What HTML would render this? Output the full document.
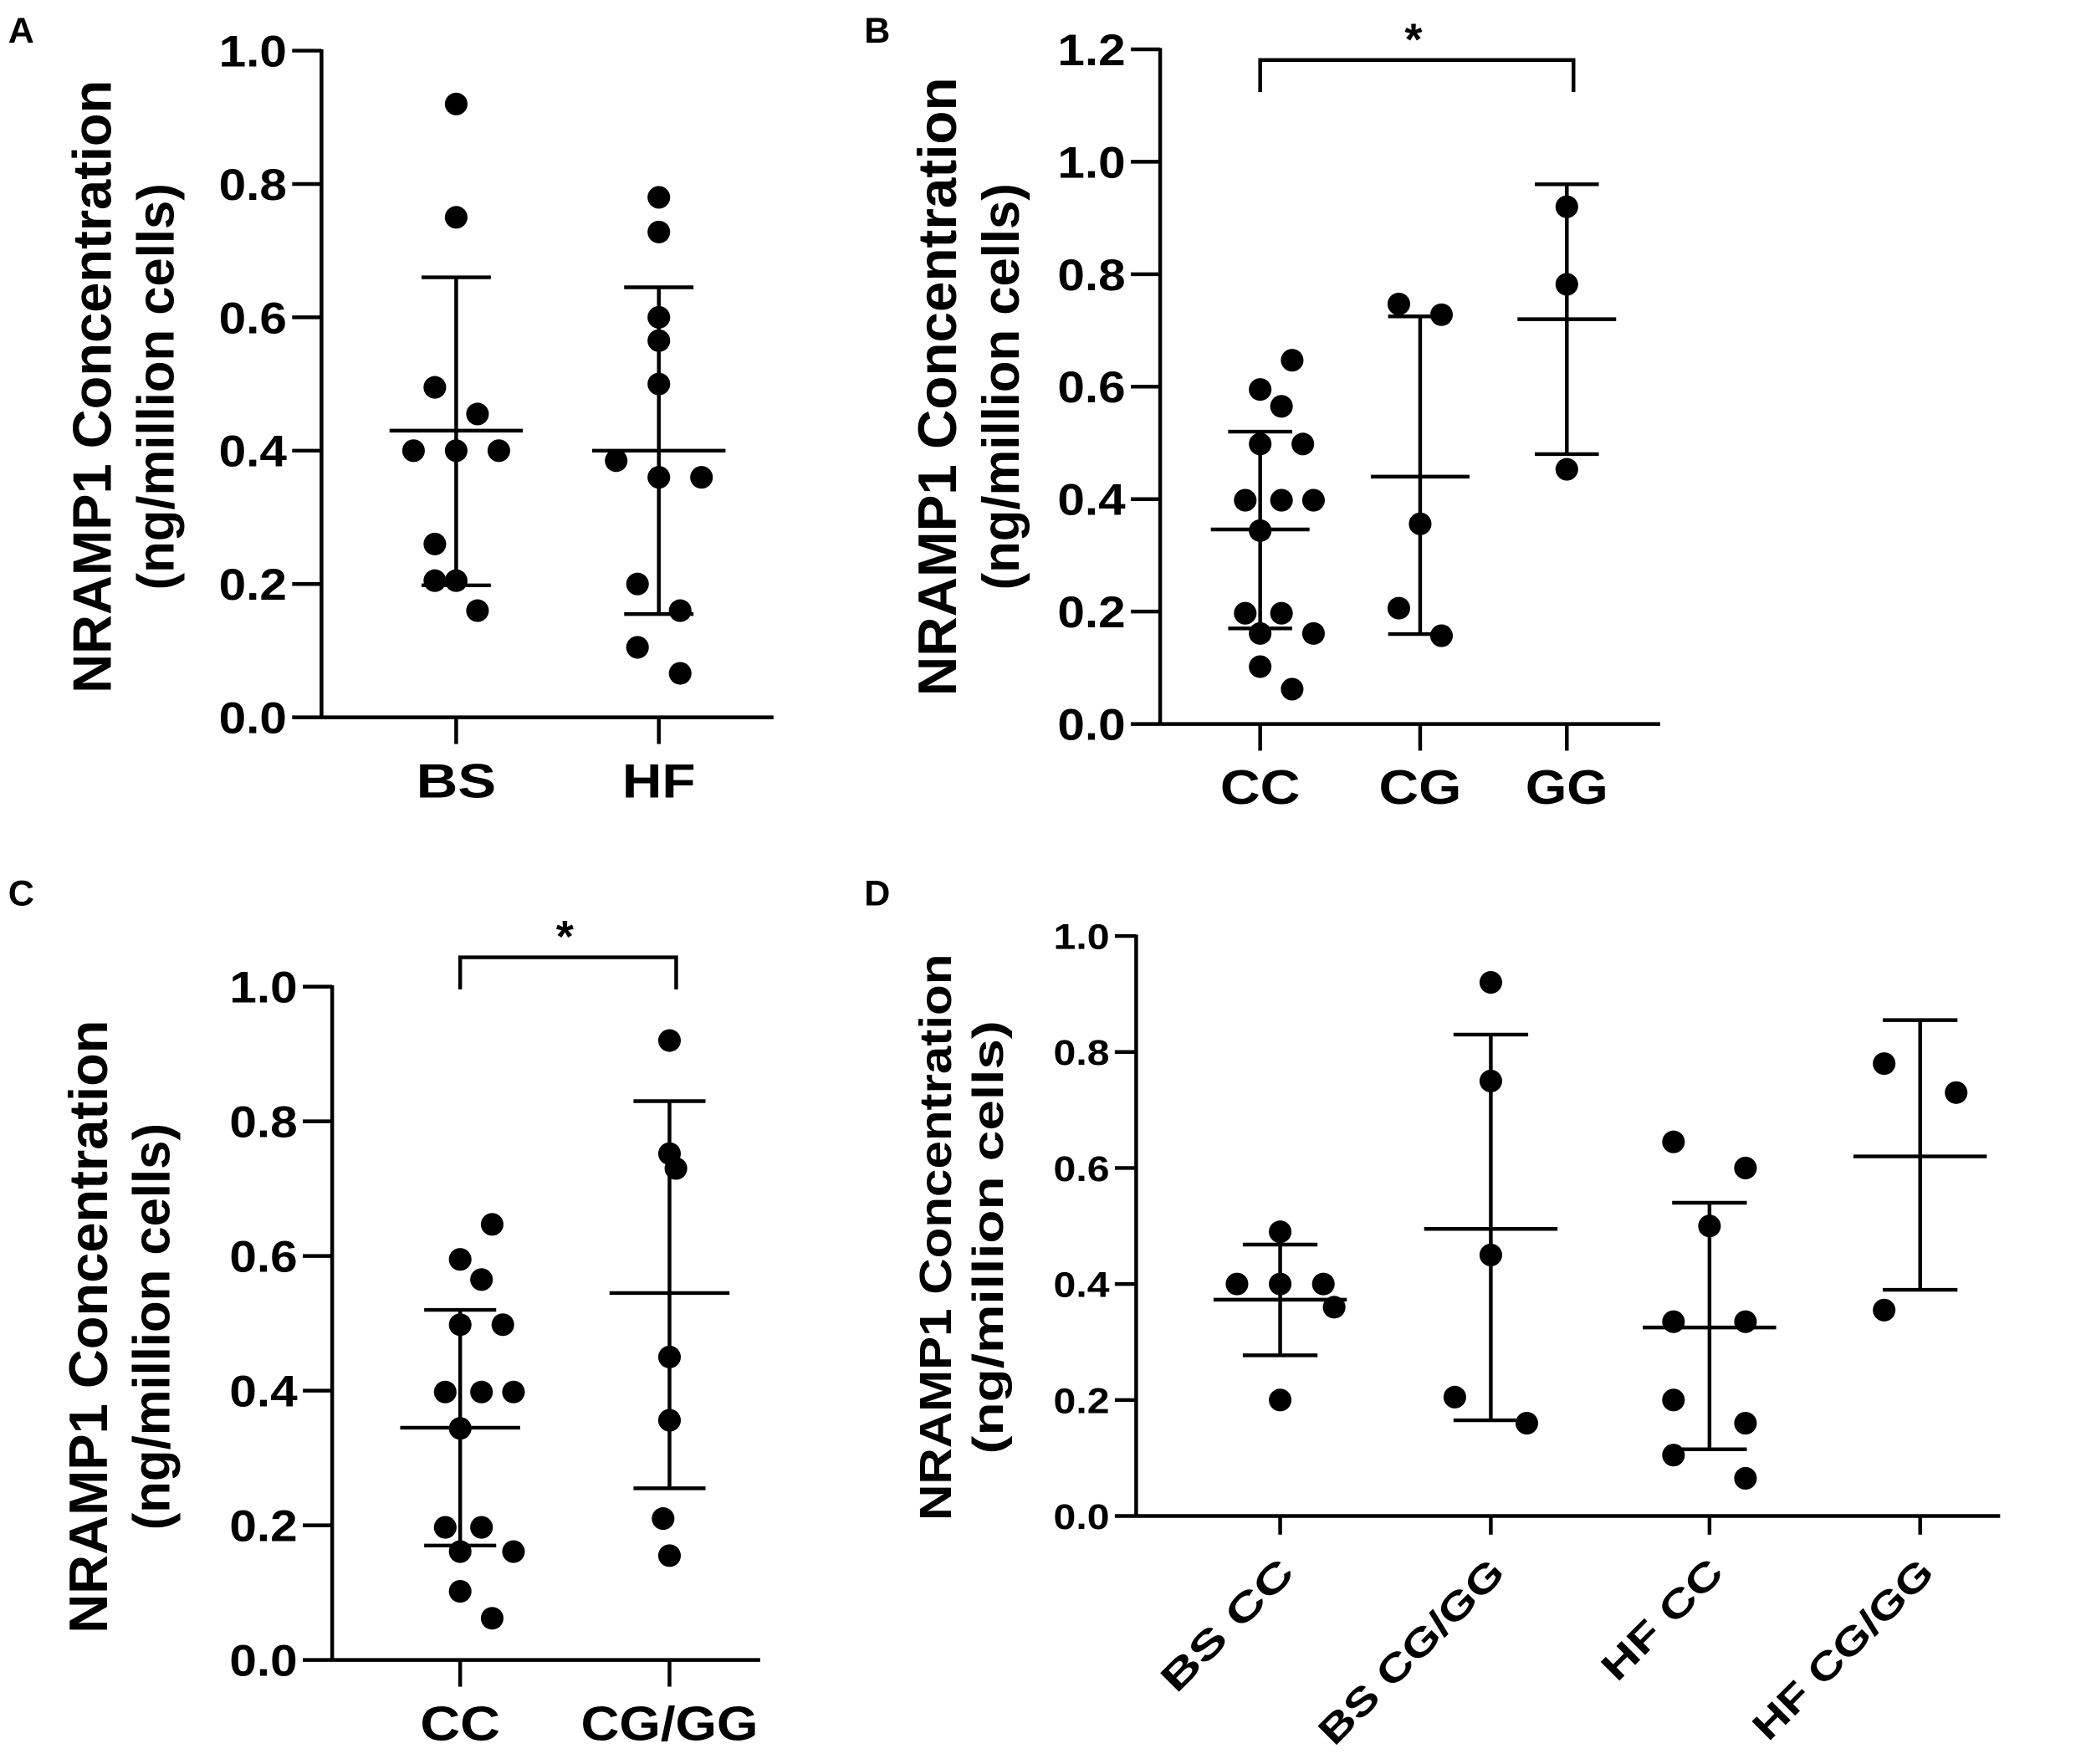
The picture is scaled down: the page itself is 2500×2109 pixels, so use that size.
<!DOCTYPE html>
<html><head><meta charset="utf-8"><style>
html,body{margin:0;padding:0;background:#fff;}
svg{display:block;font-family:"Liberation Sans",Arial,sans-serif;font-weight:bold;}
</style></head><body>
<svg id="fig" width="2500" height="2109" viewBox="0 0 1568 1323" xmlns="http://www.w3.org/2000/svg"></svg>
<script>
// ---- Data (values in ng/million cells) ----
const catsA = ["BS","HF"];
const valsA_BS = [0.92,0.75,0.495,0.455,0.40,0.40,0.40,0.26,0.205,0.205,0.16];
const valsA_HF = [0.78,0.728,0.60,0.565,0.50,0.385,0.36,0.36,0.20,0.16,0.105,0.066];
const meanA = [0.43,0.40];
const errHiA = [0.66,0.645];
const errLoA = [0.198,0.155];

const catsB = ["CC","CG","GG"];
const valsB_CC = [0.647,0.595,0.565,0.498,0.498,0.398,0.398,0.398,0.344,0.197,0.197,0.161,0.161,0.102,0.062];
const valsB_CG = [0.747,0.728,0.356,0.206,0.157];
const valsB_GG = [0.92,0.782,0.453];
const meanB = [0.346,0.44,0.72];
const errHiB = [0.52,0.725,0.96];
const errLoB = [0.17,0.16,0.48];

const catsC = ["CC","CG/GG"];
const valsC_CC = valsB_CC.slice();
const valsC_CGGG = [0.92,0.752,0.73,0.45,0.356,0.21,0.155];
const meanC = [0.345,0.545];
const errHiC = [0.52,0.83];
const errLoC = [0.17,0.255];

const catsD = ["BS  CC","BS CG/GG","HF CC","HF CG/GG"];
const valsD_BSCC = [0.49,0.40,0.40,0.40,0.36,0.20];
const valsD_BSCG = [0.92,0.75,0.45,0.205,0.16];
const valsD_HFCC = [0.645,0.60,0.50,0.335,0.335,0.20,0.16,0.105,0.065];
const valsD_HFCG = [0.78,0.73,0.355];
const meanD = [0.373,0.495,0.325,0.62];
const errHiD = [0.468,0.83,0.54,0.855];
const errLoD = [0.277,0.165,0.115,0.39];

const ticksA = ["0.0","0.2","0.4","0.6","0.8","1.0"];
const ticksB = ["0.0","0.2","0.4","0.6","0.8","1.0","1.2"];

// jitter (in dot-widths) for point placement
const jitA = [[0,0,-1,1,-2,0,2,-1,-1,0,1],[0,0,0,0,0,-2,2,0,-1,1,-1,1]];
const jitB = [[1.5,0,1,0,2,-0.7,1,2.5,0,-0.7,1,0,2.5,0,1.5],[-1,1,0,-1,1],[0,0,0]];
const jitC = [[1.5,0,1,0,2,-0.7,1,2.5,0,-0.7,1,0,2.5,0,1.5],[0,0,0.3,0,0,-0.3,0]];
const jitD = [[0,-1.2,0,1.2,1.5,0],[0,0,0,-1,1],[-1,1,0,1,-1,-1,1,-1,1],[-1,1,-1]];

const NS="http://www.w3.org/2000/svg";
const svg=document.getElementById('fig');
function mk(tag,attrs,parent){const e=document.createElementNS(NS,tag);for(const k in attrs)e.setAttribute(k,attrs[k]);(parent||svg).appendChild(e);return e;}

function panel(p){
  const g=mk('g',{});
  
  
  const y=v=>p.y0-(v/p.ymax)*(p.y0-p.ytop);
  const x=i=>p.cx[i];
  const lw=2.8;
  const L=mk('text',{x:p.lx,y:p.ly,'font-size':27},g);L.textContent=p.id;
  
  
  const ya=mk('line',{x1:p.ax,y1:p.ytop-1,x2:p.ax,y2:p.y0,stroke:'#000','stroke-width':lw},g);
  
  
  const xa=mk('line',{x1:p.ax,y1:p.y0,x2:p.xend,y2:p.y0,stroke:'#000','stroke-width':lw},g);
  
  
  p.ticks.forEach(t=>{
    const v=parseFloat(t);
    mk('line',{x1:p.ax-p.tl,y1:y(v),x2:p.ax,y2:y(v),stroke:'#000','stroke-width':lw},g);
    const tt=mk('text',{x:p.ax-p.tl-4,y:y(v)+p.tf*0.36,'text-anchor':'end','font-size':p.tf,textLength:p.tw,lengthAdjust:'spacingAndGlyphs'},g);
    tt.textContent=t;
    
    
  });
  const t1=mk('text',{transform:`translate(${p.t1x},${p.tc}) rotate(-90)`,'text-anchor':'middle','font-size':p.titf,textLength:p.t1l,lengthAdjust:'spacingAndGlyphs'},g);
  t1.textContent='NRAMP1 Concentration';
  
  
  const t2=mk('text',{transform:`translate(${p.t2x},${p.tc}) rotate(-90)`,'text-anchor':'middle','font-size':p.titf*0.95,textLength:p.t2l,lengthAdjust:'spacingAndGlyphs'},g);
  t2.textContent='(ng/million cells)';
  
  
  p.cats.forEach((c,i)=>{
    mk('line',{x1:x(i),y1:p.y0,x2:x(i),y2:p.y0+p.tl-2,stroke:'#000','stroke-width':lw},g);
    let ct;
    if(p.rot){ct=mk('text',{transform:`translate(${x(i)+12},${p.y0+44}) rotate(-45)`,'text-anchor':'end','font-size':p.cf,textLength:p.cl[i],lengthAdjust:'spacingAndGlyphs'},g);}
    else{ct=mk('text',{x:x(i),y:p.y0+60,'text-anchor':'middle','font-size':p.cf,textLength:p.cl[i],lengthAdjust:'spacingAndGlyphs'},g);}
    ct.textContent=c;
    
    
    const eb=mk('g',{stroke:'#000','stroke-width':lw},g);
    
    
    mk('line',{x1:x(i),y1:y(p.hi[i]),x2:x(i),y2:y(p.lo[i])},eb);
    mk('line',{x1:x(i)-p.cap,y1:y(p.hi[i]),x2:x(i)+p.cap,y2:y(p.hi[i])},eb);
    mk('line',{x1:x(i)-p.cap,y1:y(p.lo[i]),x2:x(i)+p.cap,y2:y(p.lo[i])},eb);
    const ml=mk('line',{x1:x(i)-p.mw,y1:y(p.mean[i]),x2:x(i)+p.mw,y2:y(p.mean[i]),stroke:'#000','stroke-width':lw},g);
    
    
    p.vals[i].forEach((v,k)=>{
      const d=mk('circle',{cx:x(i)+p.jit[i][k]*p.js,cy:y(v),r:p.r,fill:'#000'},g);
      
      
    });
  });
  if(p.sig){
    const s=p.sig, by=s.y;
    const br=mk('path',{d:`M${x(s.a)},${by+24} V${by} H${x(s.b)+5} V${by+24}`,fill:'none',stroke:'#000','stroke-width':lw},g);
    
    
    const st=mk('text',{x:(x(s.a)+x(s.b))/2,y:by-4,'text-anchor':'middle','font-size':34},g);
    st.textContent='*';
    
    
  }
}

panel({id:'A',lx:6,ly:32,ax:241,xend:580,y0:538,ytop:38,ymax:1.0,ticks:ticksA,tf:33,tw:51,tl:22,titf:41,t1x:83,t2x:130,tc:290,t1l:460,t2l:305,
  cats:catsA,cx:[342,494],cf:36,cl:[60,55],vals:[valsA_BS,valsA_HF],mean:meanA,hi:errHiA,lo:errLoA,jit:jitA,js:16,cap:26,mw:50,r:8.5});
panel({id:'B',lx:648,ly:32,ax:870,xend:1245,y0:543,ytop:37,ymax:1.2,ticks:ticksB,tf:33,tw:51,tl:22,titf:41,t1x:717,t2x:764,tc:290,t1l:464,t2l:305,
  cats:catsB,cx:[945,1065,1175],cf:36,cl:[60,62,62],vals:[valsB_CC,valsB_CG,valsB_GG],mean:meanB,hi:errHiB,lo:errLoB,jit:jitB,js:16,cap:24,mw:37,r:8.5,
  sig:{a:0,b:2,y:45}});
panel({id:'C',lx:6,ly:679,ax:249,xend:570,y0:1245,ytop:740,ymax:1.0,ticks:ticksA,tf:33,tw:51,tl:22,titf:41,t1x:80,t2x:127,tc:995,t1l:460,t2l:305,
  cats:catsC,cx:[345,502],cf:36,cl:[60,133],vals:[valsC_CC,valsC_CGGG],mean:meanC,hi:errHiC,lo:errLoC,jit:jitC,js:16,cap:27,mw:45,r:8.5,
  sig:{a:0,b:1,y:718}});
panel({id:'D',lx:648,ly:679,ax:852,xend:1500,y0:1137,ytop:702,ymax:1.0,ticks:ticksA,tf:27,tw:42,tl:16,titf:34,t1x:713,t2x:752,tc:928,t1l:425,t2l:325,
  cats:catsD,cx:[960,1118,1282,1440],cf:29,cl:[127,183,115,178],rot:true,vals:[valsD_BSCC,valsD_BSCG,valsD_HFCC,valsD_HFCG],mean:meanD,hi:errHiD,lo:errLoD,jit:jitD,js:27,cap:28,mw:50,r:8.5});
</script>
</body></html>
